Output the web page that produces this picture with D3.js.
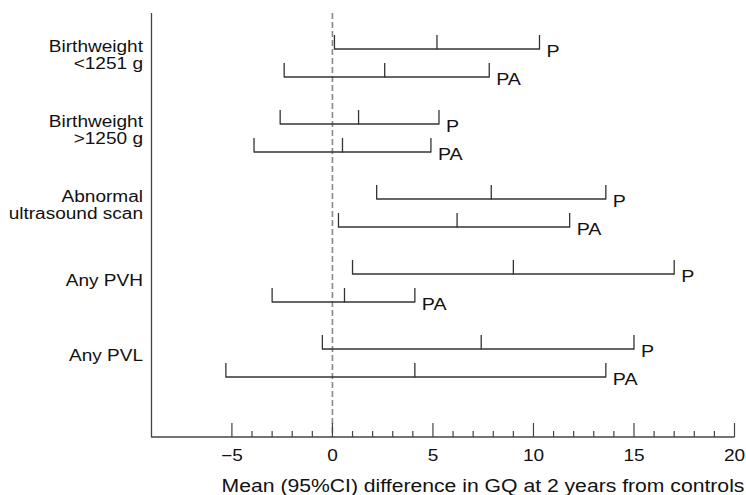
<!DOCTYPE html>
<html><head><meta charset="utf-8">
<script src="https://cdn.jsdelivr.net/npm/d3@7"></script>
<style>body{margin:0;background:#fff}text{font-family:"Liberation Sans",Arial,Helvetica,sans-serif;fill:#111}</style>
</head><body><svg id="c" width="746" height="495"></svg>
<script>
// ---- data ----
const groups = [["Birthweight", "<1251 g"], ["Birthweight", ">1250 g"], ["Abnormal", "ultrasound scan"], ["Any PVH"], ["Any PVL"]];
const seriesNames = ["P", "PA"];
const pLow  = [0.1, -2.6, 2.2, 1.0, -0.5];
const pMean = [5.2, 1.3, 7.9, 9.0, 7.4];
const pHigh = [10.3, 5.3, 13.6, 17.0, 15.0];
const paLow  = [-2.4, -3.9, 0.3, -3.0, -5.3];
const paMean = [2.6, 0.5, 6.2, 0.6, 4.1];
const paHigh = [7.8, 4.9, 11.8, 4.1, 13.6];
const xTickLabels = [-5, 0, 5, 10, 15, 20];
const xDomain = [-9, 20];
const xTitle = "Mean (95%CI) difference in GQ at 2 years from controls";

// ---- layout ----
const svg = d3.select("#c");
const SX = 1.19; // horizontal text stretch of the original
const axisY = 437, topY = 13;
const x = d3.scaleLinear().domain(xDomain).range([151.5, 734.5]);
const yG = d3.scalePoint().domain(d3.range(groups.length)).range([63, 363]);
const yS = d3.scalePoint().domain(seriesNames).range([-14, 14]);
const stroke = "#333";

const rows = [];
groups.forEach((g, i) => {
  rows.push({g: i, s: "P", lo: pLow[i], m: pMean[i], hi: pHigh[i]});
  rows.push({g: i, s: "PA", lo: paLow[i], m: paMean[i], hi: paHigh[i]});
});

function txt(sel, tx, ty, anchor, size, s, sx) {
  return sel.append("text").attr("transform", `translate(${tx},${ty}) scale(${sx || SX},1)`)
    .attr("text-anchor", anchor).attr("font-size", size).text(s);
}

// dashed zero line
svg.append("line").attr("x1", x(0)).attr("x2", x(0)).attr("y1", topY).attr("y2", axisY)
  .attr("stroke", "#888").attr("stroke-width", 1.6).attr("stroke-dasharray", "6,3");

// left axis line
svg.append("line").attr("x1", x(xDomain[0])).attr("x2", x(xDomain[0])).attr("y1", topY).attr("y2", axisY + 0.5)
  .attr("stroke", "#444").attr("stroke-width", 1.3);

// bottom axis
svg.append("line").attr("x1", x(xDomain[0])).attr("x2", x(xDomain[1])).attr("y1", axisY).attr("y2", axisY)
  .attr("stroke", "#444").attr("stroke-width", 1.3);
const minor = d3.range(-5, xDomain[1] + 1, 1);
svg.selectAll(".tk").data(minor).join("line").attr("class", "tk")
  .attr("x1", d => x(d)).attr("x2", d => x(d)).attr("y1", axisY)
  .attr("y2", d => xTickLabels.includes(d) ? axisY - 14 : axisY - 6)
  .attr("stroke", "#444").attr("stroke-width", 1.2);
xTickLabels.forEach(v => txt(svg, x(v), 461, "middle", 16, d3.format("")(v)));

// x title
txt(svg, 483, 491.5, "middle", 17.5, xTitle, 1.21);

// group labels
groups.forEach((g, i) => {
  const c = yG(i) - 8;
  if (g.length === 1) txt(svg, 143, c + 5.5, "end", 16, g[0]);
  else { txt(svg, 143, c - 3, "end", 16, g[0]); txt(svg, 143, c + 14, "end", 16, g[1]); }
});

// error bars
const bars = svg.selectAll(".bar").data(rows).join("g").attr("class", "bar");
bars.append("line").attr("x1", d => x(d.lo)).attr("x2", d => x(d.hi))
  .attr("y1", d => yG(d.g) + yS(d.s)).attr("y2", d => yG(d.g) + yS(d.s))
  .attr("stroke", stroke).attr("stroke-width", 1.3);
["lo", "m", "hi"].forEach(k => {
  bars.append("line").attr("x1", d => x(d[k])).attr("x2", d => x(d[k]))
    .attr("y1", d => yG(d.g) + yS(d.s) + 0.6).attr("y2", d => yG(d.g) + yS(d.s) - 14)
    .attr("stroke", stroke).attr("stroke-width", 1.3);
});
bars.each(function(d) {
  txt(d3.select(this), x(d.hi) + 7, yG(d.g) + yS(d.s) + 8, "start", 16.5, d.s);
});
</script></body></html>
